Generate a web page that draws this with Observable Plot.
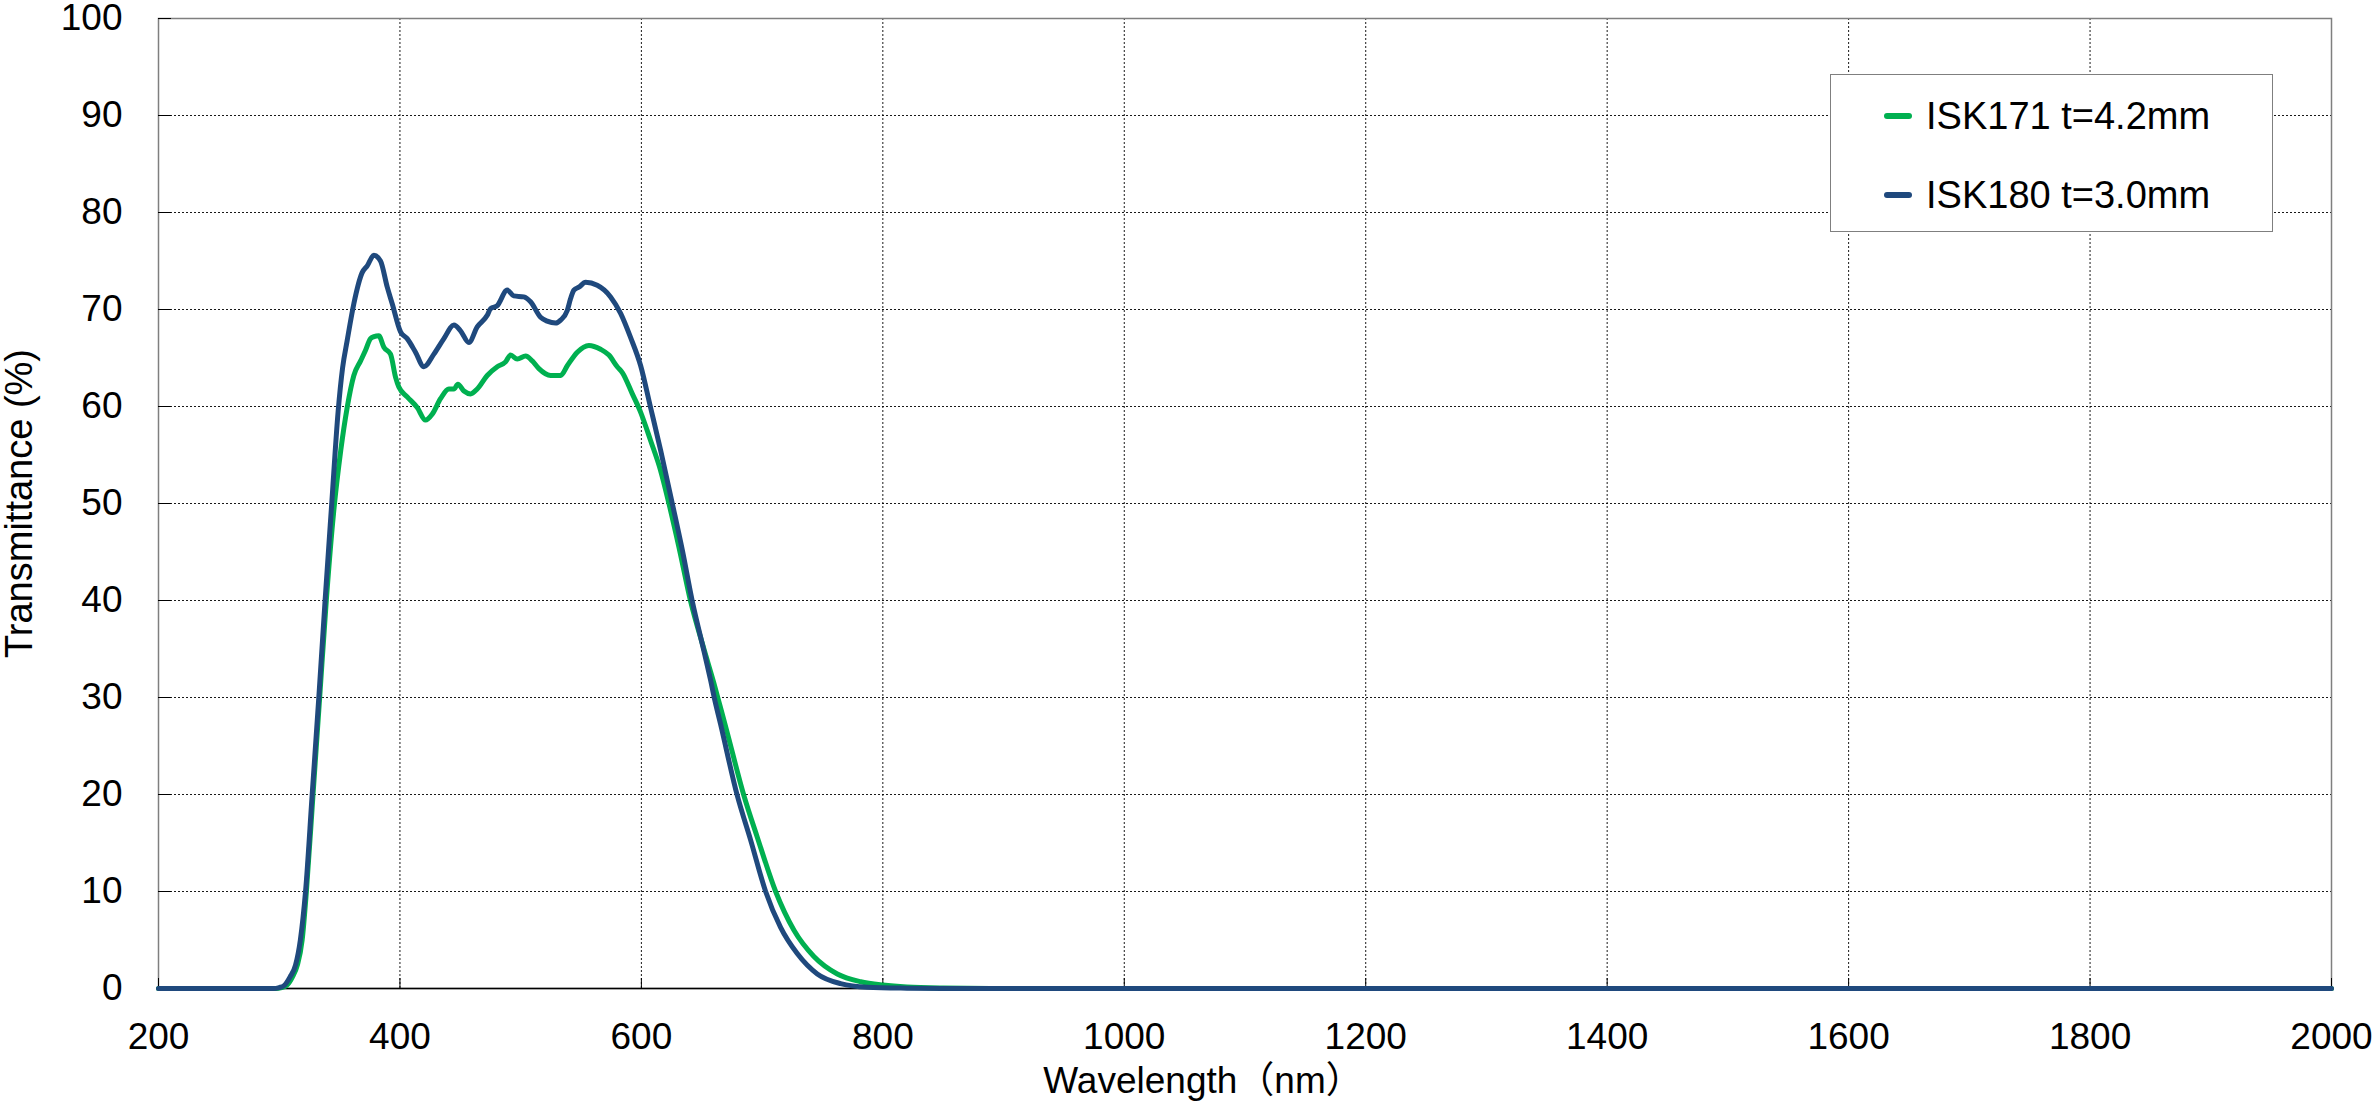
<!DOCTYPE html>
<html><head><meta charset="utf-8">
<script src="https://cdn.jsdelivr.net/npm/d3@7"></script>
<script src="https://cdn.jsdelivr.net/npm/@observablehq/plot@0.6"></script>
<style>
html,body{margin:0;padding:0;background:#fff;}
#wrap{position:relative;width:2375px;height:1117px;font-family:"Liberation Sans",Arial,"Noto Sans CJK JP",sans-serif;color:#000;}
#wrap svg{position:absolute;left:0;top:0;}
#legend{position:absolute;left:1830px;top:74px;width:443px;height:158px;box-sizing:border-box;border:1.5px solid #7f7f7f;background:#fff;}
.item{position:absolute;left:0;height:40px;display:flex;align-items:center;font-size:38px;white-space:nowrap;}
.sw{width:28px;height:6px;border-radius:3px;margin-left:53px;margin-right:14px;}
</style></head>
<body><div id="wrap"></div>
<script>
// Series names / colours
const seriesNames = ["ISK171 t=4.2mm", "ISK180 t=3.0mm"];
const seriesColors = ["#00b050", "#1f497d"];

// Axis ticks
const xTicks = [200, 400, 600, 800, 1000, 1200, 1400, 1600, 1800, 2000];
const yTicks = [0, 10, 20, 30, 40, 50, 60, 70, 80, 90, 100];

// Axis titles
const xTitle = "Wavelength（nm）";
const yTitle = "Transmittance (%)";

// ISK171 t=4.2mm : [wavelength nm, transmittance %]
const isk171 = [
  [200,0],[297,0],[302,0.1],[306,0.3],[311,1.2],[315,2.4],[319,5],[322.5,10],[328,20],[333.5,30],
  [339,40],[345,49],[351,55.5],[356.3,59.9],[361.8,63.2],[367.4,64.7],[371.5,65.8],[375.6,67.0],
  [378.5,67.2],[382.5,67.3],[386.7,66.1],[392.2,65.4],[396.4,63.0],[399.1,62.0],[406,61.0],[414.3,59.9],
  [421.2,58.6],[426.7,59.2],[433.6,60.8],[440.5,61.8],[444.7,61.8],[448,62.3],[453,61.6],[458.5,61.3],
  [464,61.8],[472.3,63.2],[480.6,64.1],[487.5,64.6],[491.6,65.3],[497.2,64.9],[504.1,65.2],[509.6,64.7],
  [515.1,63.9],[524.8,63.2],[533.1,63.2],[538.6,64.2],[546.9,65.6],[556.5,66.3],[566.2,65.9],[573.1,65.3],
  [580,64.1],[584.2,63.5],[592.5,61.3],[599.4,59.4],[607.6,56.5],[615.9,53.4],[622.8,50.0],[631.1,45.5],
  [640.8,39.9],[651.8,35.0],[660,31.5],[665,29.2],[670,26.9],[684.9,19.9],[696,15.6],[711.2,10.0],
  [726.4,6.0],[742.9,3.3],[762.3,1.5],[781.6,0.7],[800,0.35],[820,0.15],[850,0.05],[900,0],[2000,0]
];

// ISK180 t=3.0mm : [wavelength nm, transmittance %]
const isk180 = [
  [200,0],[295,0],[300,0.1],[304,0.3],[309,1.2],[313.5,2.4],[317.5,5],[321.8,10],[327.3,20],[332.8,30],
  [338,40],[343.5,50],[348.8,59.5],[352.5,64],[356.3,66.8],[361.8,70.6],[368.7,73.8],[372.9,74.5],
  [378.4,75.6],[383.9,75.0],[389.5,72.3],[393.6,70.6],[400.5,67.7],[406,67.0],[412.9,65.6],[419.8,64.1],
  [428.1,65.4],[436.4,67.0],[444.7,68.4],[450.2,67.8],[457.1,66.6],[464,68.2],[472.3,69.4],[475.1,70.1],
  [480.6,70.4],[488.9,72.0],[494.3,71.4],[502.6,71.3],[508.2,70.8],[516.5,69.2],[522,68.8],[528.9,68.6],
  [533.1,68.9],[538.6,69.9],[541.3,71.1],[544.1,72.0],[548.2,72.3],[553.8,72.8],[563.4,72.5],[574.5,71.3],
  [582.8,69.6],[591.1,67.1],[599.4,64.2],[607.6,59.9],[615.9,55.5],[625.6,50.0],[633.9,45.2],[642.2,39.9],
  [651.8,34.8],[657.3,31.8],[660.5,29.9],[665.5,27.3],[679.4,19.9],[690.5,15.3],[702.9,10.0],[715.3,6.3],
  [729.1,3.6],[745.7,1.5],[765,0.5],[787,0.13],[820,0.03],[850,0],[2000,0]
];

const series = [isk171, isk180];

const chart = Plot.plot({
  width: 2375,
  height: 1117,
  marginLeft: 158,
  marginRight: 44,
  marginTop: 18,
  marginBottom: 129,
  style: {fontFamily: '"Liberation Sans", Arial, "Noto Sans CJK JP", sans-serif', fontSize: "37px", color: "#000", background: "#fff", overflow: "visible"},
  x: {domain: [200, 2000], ticks: xTicks, label: null},
  y: {domain: [0, 100], ticks: yTicks, label: null},
  marks: [
    Plot.gridX(xTicks, {stroke: "#000", strokeOpacity: 0.9, strokeWidth: 1, strokeDasharray: "2,2"}),
    Plot.gridY(yTicks, {stroke: "#000", strokeOpacity: 0.9, strokeWidth: 1, strokeDasharray: "2,2"}),
    Plot.frame({stroke: "#7f7f7f", strokeWidth: 1.5}),
    Plot.ruleY([0], {stroke: "#000", strokeWidth: 1.5}),
    Plot.axisX(xTicks, {tickSize: 0, tickPadding: 34, fontSize: 37, tickFormat: d => String(d), label: null}),
    Plot.axisX(xTicks, {tickSize: -10, fill: "none", stroke: "#000", label: null}),
    Plot.axisY(yTicks, {tickSize: 0, tickPadding: 36, fontSize: 37, tickFormat: d => String(d), label: null}),
    Plot.axisY(yTicks, {tickSize: -13, fill: "none", stroke: "#000", label: null}),
    ...series.map((s, i) => Plot.line(s, {x: d => d[0], y: d => d[1], stroke: seriesColors[i], strokeWidth: 5, curve: "monotone-x"})),
    Plot.text([xTitle], {frameAnchor: "bottom", dx: -42, dy: 104, text: d => d, textAnchor: "middle", fontSize: 37}),
    Plot.text([yTitle], {frameAnchor: "left", dx: -139, rotate: -90, text: d => d, textAnchor: "middle", fontSize: 38})
  ]
});

const wrap = document.getElementById("wrap");
wrap.appendChild(chart);

const legend = document.createElement("div");
legend.id = "legend";
seriesNames.forEach((name, i) => {
  const item = document.createElement("div");
  item.className = "item";
  item.style.top = (21 + i * 79) + "px";
  const sw = document.createElement("span");
  sw.className = "sw";
  sw.style.background = seriesColors[i];
  const tx = document.createElement("span");
  tx.textContent = name;
  item.appendChild(sw);
  item.appendChild(tx);
  legend.appendChild(item);
});
wrap.appendChild(legend);
</script>
</body></html>
